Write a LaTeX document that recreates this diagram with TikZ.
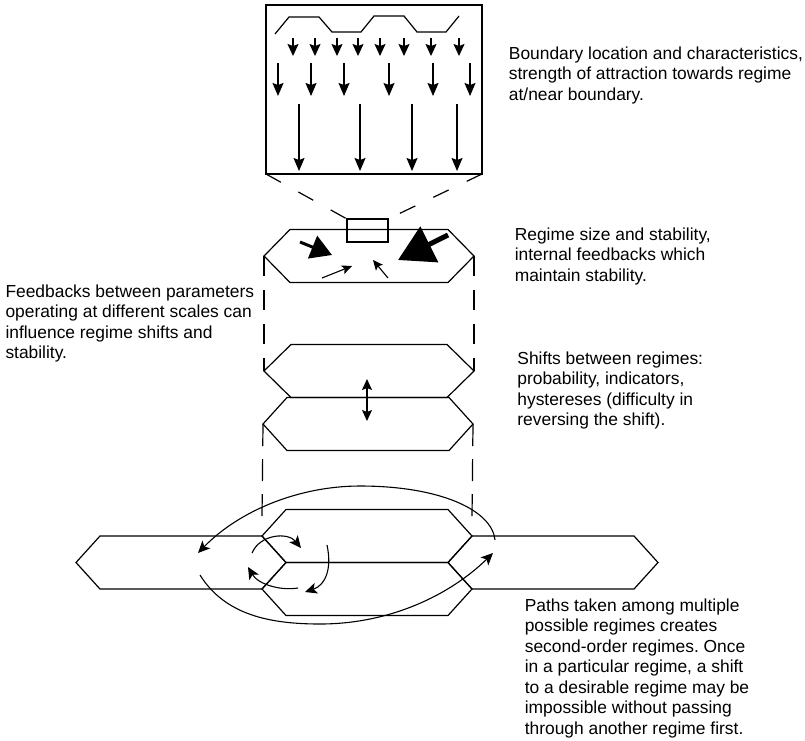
\documentclass[tikz,border=0pt]{standalone}
\usepackage{fontspec}
\setmainfont{Liberation Sans}
\usetikzlibrary{arrows.meta,calc}
\frenchspacing
\newcommand{\myhexa}[4]{% name, cx, cy, inset
  \begin{scope}[shift={(#2,#3)}]
    \draw[hexline] (-105,0) coordinate (#1-l) -- (-105+#4,-26.5) coordinate (#1-tl)
      -- (105-#4,-26.5) coordinate (#1-tr) -- (105,0) coordinate (#1-r)
      -- (105-#4,26.5) coordinate (#1-br) -- (-105+#4,26.5) coordinate (#1-bl) -- cycle;
  \end{scope}}
\begin{document}
\begin{tikzpicture}[x=1pt,y=-1pt,
  hexline/.style={line width=1.2pt, line join=miter},
  thinline/.style={line width=1.2pt},
  dashline/.style={line width=1.2pt, dash pattern=on 20pt off 14pt},
  slantdash/.style={line width=1.2pt, dash pattern=on 17pt off 20pt},
  sarr/.style={line width=1.3pt, -{Stealth[length=12pt,width=11pt,inset=2pt]}},
  marr/.style={line width=1.3pt, -{Stealth[length=13pt,width=11pt,inset=2pt]}},
  carr/.style={line width=1.1pt, -{Stealth[length=12pt,width=11pt,inset=3pt]}},
  tarr/.style={line width=1.1pt, -{Stealth[length=10pt,width=9pt,inset=2pt]}},
  txt/.style={anchor=north west, inner sep=0pt, align=left,
    font=\fontsize{17.4}{20.5}\selectfont}]
\fill[white] (0,0) rectangle (805,740);
\useasboundingbox (0,0) rectangle (805,740);

% ---------- top box: boundary ----------
\draw[thinline] (266,5) coordinate (box-tl) rectangle (482,174) coordinate (box-br);
\coordinate (box-bl) at (266,174);
\draw[thinline] (275,34) -- (289,17) -- (319,17) -- (332,32) -- (361,32) -- (374,16)
  -- (404,16) -- (417,32) -- (446,32) -- (459,16);
\foreach \x in {293,315,337,358,380,404,431,459}
  \draw[sarr] (\x,38) -- (\x,56);
\foreach \x in {278,311,344,389,433,470}
  \draw[marr] (\x,63) -- (\x,96);
\foreach \x in {299,360,412,457}
  \draw[marr] (\x,104) -- (\x,171);

% small rectangle on regime
\draw[thinline] (347,219) coordinate (sr-tl) rectangle (388,242);
\coordinate (sr-tr) at (388,219);
\draw[slantdash] (box-bl) -- (sr-tl);
\draw[slantdash] (box-br) -- (sr-tr);

% ---------- regime hexagon ----------
\myhexa{hA}{369}{256}{26}
\draw[line width=3pt, -{Triangle[length=21pt,width=24pt]}] (300,242) -- (332,255);
\draw[line width=5pt, -{Triangle[length=35pt,width=39pt]}] (448,235) -- (398,260);
\draw[tarr] (322,278) -- (352,266);
\draw[tarr] (388,278) -- (373,260);

% ---------- shift between regimes ----------
\myhexa{hB}{369}{371}{27}
\myhexa{hC}{368}{424}{24}
\draw[line width=1.2pt, {Stealth[length=11pt,width=10pt,inset=2pt]}-{Stealth[length=11pt,width=10pt,inset=2pt]}] (367,379) -- (367,421);
\draw[dashline] (hA-l) -- (hB-l);
\draw[dashline] (hA-r) -- (hB-r);

% ---------- multiple regimes ----------
\myhexa{C1}{367}{536}{24}
\myhexa{C2}{367}{589}{24}
\myhexa{L}{181}{562.5}{24}
\myhexa{R}{553}{562.5}{24}
\coordinate (dl) at (262,517);
\coordinate (dr) at (472,517);
\draw[line width=1.2pt, dash pattern=on 22pt off 13pt] (hC-l) -- (dl);
\draw[line width=1.2pt, dash pattern=on 22pt off 13pt] (hC-r) -- (dr);

% large paths
\coordinate (pa1) at (495,540);
\coordinate (pa2) at (198,553);
\coordinate (pb1) at (200,575);
\coordinate (pb2) at (493,553);
\draw[carr] (pa1) .. controls (492,510) and (440,486) .. (360,486)
  .. controls (300,486) and (240,510) .. (pa2);
\draw[carr] (pb1) .. controls (225,615) and (270,624) .. (320,624)
  .. controls (390,624) and (450,595) .. (pb2);

% small circular arrows
\coordinate (ca1) at (252,553); \coordinate (ca2) at (301,548);
\coordinate (cb1) at (327,545); \coordinate (cb2) at (305,592);
\coordinate (cc1) at (298,588); \coordinate (cc2) at (248,567);
\draw[carr] (ca1) .. controls (260,534) and (288,532) .. (ca2);
\draw[carr] (cb1) .. controls (332,568) and (326,585) .. (cb2);
\draw[carr] (cc1) .. controls (280,591) and (258,584) .. (cc2);

% ---------- texts ----------
\node[txt] (t1) at (508.7,46.6) {Boundary location and characteristics,\\strength of attraction towards regime\\at/near boundary.};
\node[txt] (t2) at (514.6,227.4) {Regime size and stability,\\internal feedbacks which\\maintain stability.};
\node[txt] (t3) at (5.3,284.6) {Feedbacks between parameters\\operating at different scales can\\influence regime shifts and\\stability.};
\node[txt] (t4) at (517.2,351.4) {Shifts between regimes:\\probability, indicators,\\hystereses (difficulty in\\reversing the shift).};
\node[txt] (t5) at (524.6,598.4) {Paths taken among multiple\\possible regimes creates\\second-order regimes. Once\\in a particular regime, a shift\\to a desirable regime may be\\impossible without passing\\through another regime first.};
\end{tikzpicture}
\end{document}
